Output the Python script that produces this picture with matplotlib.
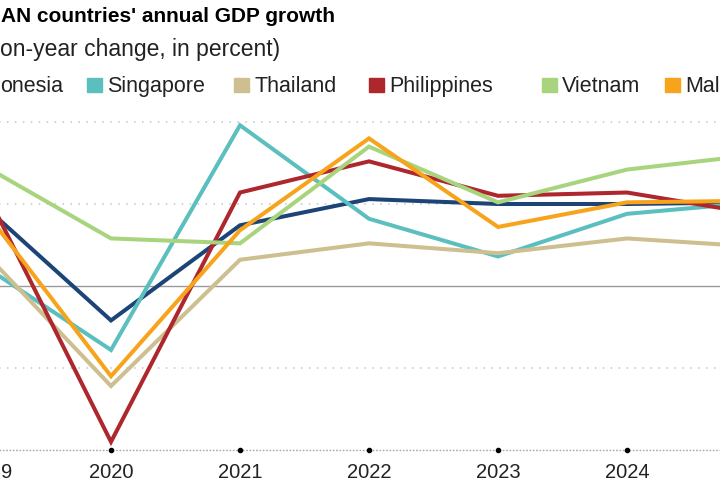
import numpy as np
import matplotlib
matplotlib.use("Agg")
import matplotlib.pyplot as plt
from matplotlib.patches import Rectangle

# data (year-on-year GDP growth, percent)
years = [2019, 2020, 2021, 2022, 2023, 2024, 2025]
countries = ["Indonesia", "Singapore", "Thailand", "Philippines", "Vietnam", "Malaysia"]
indonesia = [5.0, -2.1, 3.7, 5.3, 5.0, 5.0, 5.1]
singapore = [1.3, -3.9, 9.8, 4.1, 1.8, 4.4, 5.1]
thailand = [2.2, -6.1, 1.6, 2.6, 2.0, 2.9, 2.4]
philippines = [6.2, -9.5, 5.7, 7.6, 5.5, 5.7, 4.4]
vietnam = [7.4, 2.9, 2.6, 8.5, 5.1, 7.1, 8.0]
malaysia = [4.8, -5.5, 3.4, 9.0, 3.6, 5.1, 5.2]
colors = ["#1d4477", "#5bbfbf", "#cdbf8f", "#ae272d", "#a9d47e", "#f7a31c"]

# the reference is a crop of a wider chart: these are the parts that show
title_visible = "AN countries' annual GDP growth"
subtitle_visible = "on-year change, in percent)"
legend_visible = ["onesia", "Singapore", "Thailand", "Philippines", "Vietnam", "Mal"]

series = [indonesia, singapore, thailand, philippines, vietnam, malaysia]

W, H = 720, 480
plt.rcParams["font.family"] = ["Liberation Sans", "DejaVu Sans"]

fig = plt.figure(figsize=(W / 100, H / 100), dpi=100)

# axes run past the figure edges, like the cropped original
x0, x1 = 2018.7, 2025.3
px_per_year = 129
left_px = -18 - (2019 - x0) * px_per_year
width_px = (x1 - x0) * px_per_year
ax = fig.add_axes([left_px / W, 30 / H, width_px / W, (450 - 105.6) / H])

for vals, col in zip(series, colors):
    ax.plot(years, vals, color=col, lw=2.9, solid_joinstyle="miter", zorder=3)

ax.set_xlim(x0, x1)
ax.set_ylim(-10, 11)

for s in ax.spines.values():
    s.set_visible(False)

for g in [10, 5, -5]:
    ax.axhline(g, color="#c4c4c4", lw=1.1, ls=(0, (1, 4.2)), zorder=1)
ax.axhline(0, color="#9a9a9a", lw=1.0, zorder=1)
ax.axhline(-10, color="#a8a8a8", lw=1.0, ls=(0, (1.2, 1.2)), zorder=1, clip_on=False)
ax.plot(years, [-10] * len(years), "o", color="black", ms=3, zorder=4, clip_on=False)

ax.set_yticks([])
# 2019 and 2025 labels fall (mostly) outside the crop
ax.set_xticks(years[1:-1])
ax.set_xticklabels([str(y) for y in years[1:-1]])
ax.tick_params(axis="x", length=0, pad=9, labelsize=14.5, labelcolor="#222222")
fig.text(0.5 / W, 1 - 462.5 / H, str(years[0])[-1], va="top",
         fontsize=14.5, color="#222222")

fig.text(1 / W, 1 - 22 / H, title_visible, va="baseline",
         fontsize=15, fontweight="bold", color="black")
fig.text(0 / W, 1 - 56 / H, subtitle_visible, va="baseline",
         fontsize=16.5, color="#222222")

# legend, laid out by hand like the original
patch_x = [-51, 87, 234, 369, 542, 665]
text_x = [0, 107, 254, 389, 562, 685]
for name, col, px, tx in zip(legend_visible, colors, patch_x, text_x):
    fig.patches.append(Rectangle((px / W, 1 - 92 / H), 15 / W, 14 / H,
                                 transform=fig.transFigure, color=col))
    fig.text(tx / W, 1 - 92 / H, name, va="baseline",
             fontsize=15.5, color="#222222")

fig.savefig("out.png", dpi=100)
